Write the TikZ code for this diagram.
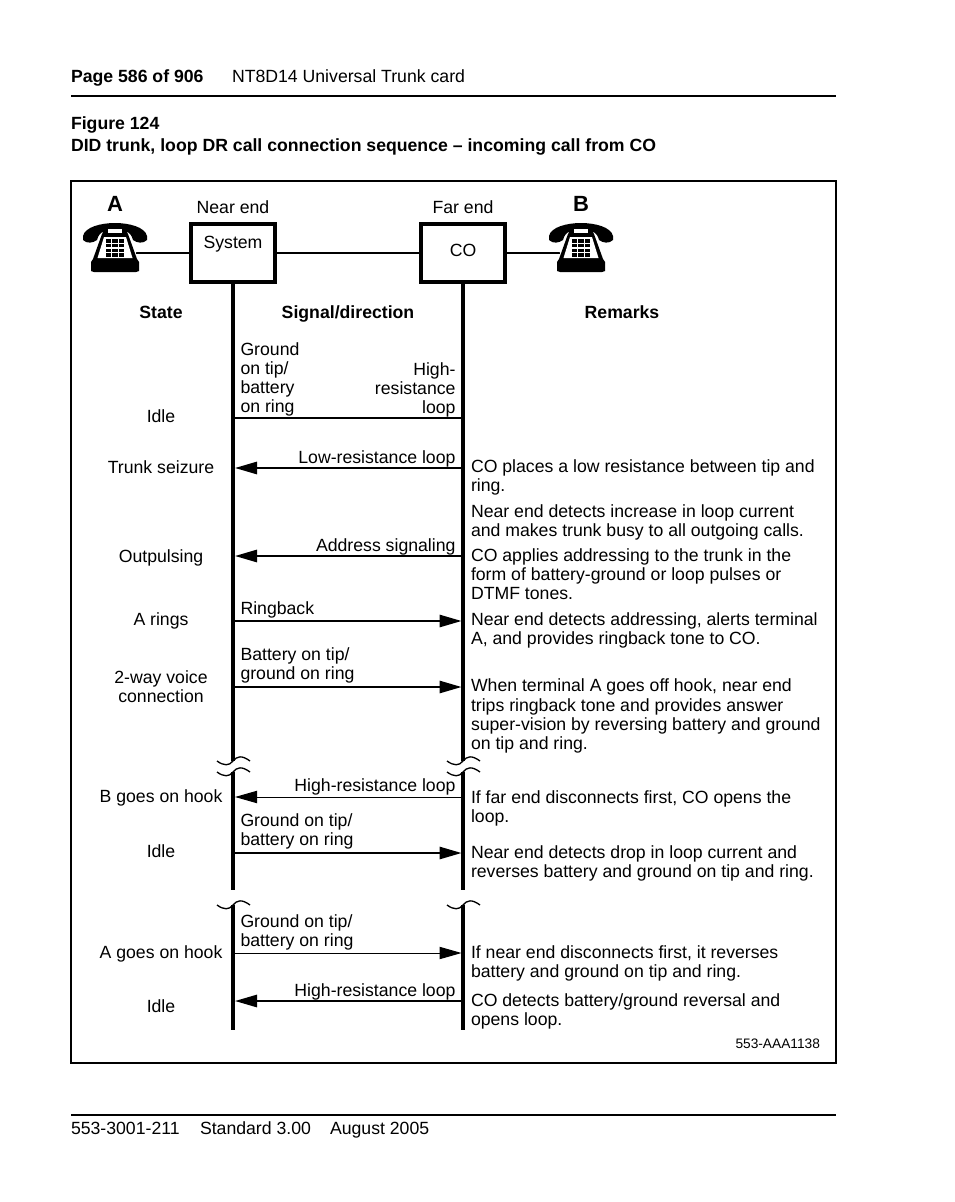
\documentclass[tikz,border=0pt]{standalone}
\usepackage{fontspec}
\setmainfont{Liberation Sans}
\usetikzlibrary{arrows.meta}
\tikzset{
  x=0.75pt,y=-0.75pt,
  txt/.style={inner sep=0pt,outer sep=0pt,align=left,font=\fontsize{13.25}{14.3}\selectfont,anchor=west,execute at begin node=\strut,execute at end node=\strut},
  ctr/.style={txt,align=center,anchor=center},
  rgt/.style={txt,align=right,anchor=east},
  hd/.style={ctr,font=\fontsize{13.25}{14.3}\selectfont\bfseries},
  bigl/.style={ctr,font=\fontsize{16.5}{18}\selectfont\bfseries},
  rule/.style={line width=1.5pt,black},
  boxn/.style={draw=black,line width=3pt,minimum width=63pt,minimum height=43.5pt,inner sep=0pt,outer sep=0pt},
  life/.style={line width=3pt,black},
  wire/.style={line width=1.5pt,black},
  sig/.style={line width=1.5pt,black,-{Triangle[length=16.5pt,width=9.2pt]}},
  sigthin/.style={line width=0.75pt,black,-{Triangle[length=16.5pt,width=9.2pt]}},
  wave/.style={line width=1pt,black},
  pics/phone/.style={code={
    % handset
    \fill[black] (-32,-14) .. controls (-30,-23) and (-14,-27) .. (0,-27) .. controls (14,-27) and (30,-23) .. (32,-14)
      -- (32,-10) .. controls (28,-6) and (22,-7) .. (18,-10) .. controls (17,-14) and (15,-17) .. (12,-18)
      .. controls (6,-20) and (-6,-20) .. (-12,-18) .. controls (-15,-17) and (-17,-14) .. (-18,-10)
      .. controls (-22,-7) and (-28,-6) .. (-32,-10) -- cycle;
    % white gap between handset and body
    \draw[white,line width=0.9pt] (-13,-17) -- (-22,2);
    \draw[white,line width=0.9pt] (13,-17) -- (22,2);
    % body
    \fill[black] (-11,-19) -- (-7,-21) -- (7,-21) -- (11,-19) -- (13,-16) -- (22,9) -- (24,12) -- (24,21) -- (21,22) -- (-21,22) -- (-24,21) -- (-24,12) -- (-22,9) -- (-13,-16) -- cycle;
    % cradle window
    \fill[white] (-7,-21.5) rectangle (7,-17);
    % white space on the body
    \fill[white] (-11,-13) -- (11,-13) -- (17.5,8) -- (-17.5,8) -- cycle;
    % keypad
    \foreach \i in {0,1,2}{\foreach \j in {0,1,2,3}{
      \fill[black] (-9.2+\i*6.4,-11+\j*4.8) rectangle ++(5.5,3.6);}}
  }},
}
\begin{document}
\begin{tikzpicture}
\useasboundingbox (0,0) rectangle (954,1202);
% header
\node[txt] (pg) at (71,78.4) {\textbf{Page 586 of 906}};
\node[txt] (ti) at (232,78.4) {NT8D14 Universal Trunk card};
\coordinate (r1a) at (71,96); \coordinate (r1b) at (836,96);
\draw[rule] (r1a) -- (r1b);
\node[txt] (fig) at (71,125.7) {\textbf{Figure 124}};
\node[txt] (cap) at (71,147.7) {\textbf{DID trunk, loop DR call connection sequence – incoming call from CO}};
% frame
\node[draw=black,line width=1.5pt,inner sep=0pt,outer sep=0pt,minimum width=573.75pt,minimum height=661.5pt,anchor=north west] (frame) at (71,181) {};
% footer
\coordinate (r2a) at (71,1115); \coordinate (r2b) at (836,1115);
\draw[rule] (r2a) -- (r2b);
\node[txt] (ft1) at (71,1130.2) {553-3001-211};
\node[txt] (ft2) at (200,1130.2) {Standard 3.00};
\node[txt] (ft3) at (330,1130.2) {August 2005};
% heads
\node[bigl] (A) at (115,206.2) {A};
\node[bigl] (B) at (581,206.2) {B};
\node[ctr] (ne) at (233,209.4) {Near end};
\node[ctr] (fe) at (463,209.4) {Far end};
\node[boxn] (sys) at (233,253) {};
\node[boxn] (co) at (463,253) {};
\node[ctr] (syst) at (233,244.7) {System};
\node[ctr] (cot) at (463,252.4) {CO};
\coordinate (pa) at (136,253); \coordinate (pb) at (560,253);
\draw[wire] (pa) -- (sys.west);
\draw[wire] (sys.east) -- (co.west);
\draw[wire] (co.east) -- (pb);
\pic at (115,250) {phone};
\pic at (581,250) {phone};
\node[hd] (h1) at (161,315) {State};
\node[hd] (h2) at (348,315) {Signal/direction};
\node[hd] (h3) at (622,315) {Remarks};
% lifelines
\coordinate (L0) at (233,284); \coordinate (L1) at (233,761); \coordinate (L2) at (233,772); \coordinate (L3) at (233,889.5); \coordinate (L4) at (233,905); \coordinate (L5) at (233,1030);
\coordinate (R0) at (463,284); \coordinate (R1) at (463,761); \coordinate (R2) at (463,772); \coordinate (R3) at (463,889.5); \coordinate (R4) at (463,905); \coordinate (R5) at (463,1030);
\draw[life] (L0) -- (L1); \draw[life] (L2) -- (L3); \draw[life] (L4) -- (L5);
\draw[life] (R0) -- (R1); \draw[life] (R2) -- (R3); \draw[life] (R4) -- (R5);
% waves
\foreach \cx/\cy in {233/761,233/772,463/761,463/772,233/905,463/905}{
  \draw[wave] (\cx-16,\cy) .. controls (\cx-9,\cy+5) and (\cx-4,\cy+5) .. (\cx,\cy) .. controls (\cx+4,\cy-5) and (\cx+9,\cy-6) .. (\cx+17,\cy);
}
% signals
\coordinate (a0) at (233,418); \coordinate (b0) at (463,418);
\draw[wire] (a0) -- (b0);
\foreach \n/\y in {1/468,2/556,3/621,4/687,5/797,6/853,7/953,8/1001}{
  \coordinate (a\n) at (235,\y); \coordinate (b\n) at (461.5,\y);
}
\draw[sig] (b1) -- (a1);
\draw[sig] (b2) -- (a2);
\draw[sig] (a3) -- (b3);
\draw[sig] (a4) -- (b4);
\draw[sigthin] (b5) -- (a5);
\draw[sig] (a6) -- (b6);
\draw[sigthin] (a7) -- (b7);
\draw[sig] (b8) -- (a8);
% state
\node[ctr] (s1) at (161,418.4) {Idle};
\node[ctr] (s2) at (161,469.4) {Trunk seizure};
\node[ctr] (s3) at (161,558.7) {Outpulsing};
\node[ctr] (s4) at (161,621.7) {A rings};
\node[ctr] (s5) at (161,689) {2-way voice\\connection};
\node[ctr] (s6) at (161,798.7) {B goes on hook};
\node[ctr] (s7) at (161,853.4) {Idle};
\node[ctr] (s8) at (161,954.7) {A goes on hook};
\node[ctr] (s9) at (161,1008.4) {Idle};
% signal labels
\node[txt] (t1) at (240.5,380.5) {Ground\\on tip/\\battery\\on ring};
\node[rgt] (t2) at (455.5,391) {High-\\resistance\\loop};
\node[rgt] (t3) at (455.5,459.7) {Low-resistance loop};
\node[rgt] (t4) at (455.5,547.7) {Address signaling};
\node[txt] (t5) at (240.5,610.7) {Ringback};
\node[txt] (t6) at (240.5,666) {Battery on tip/\\ground on ring};
\node[rgt] (t7) at (455.5,787.7) {High-resistance loop};
\node[txt] (t8) at (240.5,832) {Ground on tip/\\battery on ring};
\node[txt] (t9) at (240.5,933) {Ground on tip/\\battery on ring};
\node[rgt] (t10) at (455.5,992.7) {High-resistance loop};
% remarks
\node[txt] (r1) at (471,478) {CO places a low resistance between tip and\\ring.};
\node[txt] (r2) at (471,523) {Near end detects increase in loop current\\and makes trunk busy to all outgoing calls.};
\node[txt] (r3) at (471,577) {CO applies addressing to the trunk in the\\form of battery-ground or loop pulses or\\DTMF tones.};
\node[txt] (r4) at (471,631) {Near end detects addressing, alerts terminal\\A, and provides ringback tone to CO.};
\node[txt] (r5) at (471,717) {When terminal A goes off hook, near end\\trips ringback tone and provides answer\\super-vision by reversing battery and ground\\on tip and ring.};
\node[txt] (r6) at (471,809) {If far end disconnects first, CO opens the\\loop.};
\node[txt] (r7) at (471,864) {Near end detects drop in loop current and\\reverses battery and ground on tip and ring.};
\node[txt] (r8) at (471,964) {If near end disconnects first, it reverses\\battery and ground on tip and ring.};
\node[txt] (r9) at (471,1012) {CO detects battery/ground reversal and\\opens loop.};
\node[txt,anchor=east,font=\fontsize{10.3}{11}\selectfont] (code) at (820,1045.8) {553-AAA1138};
\end{tikzpicture}
\end{document}
